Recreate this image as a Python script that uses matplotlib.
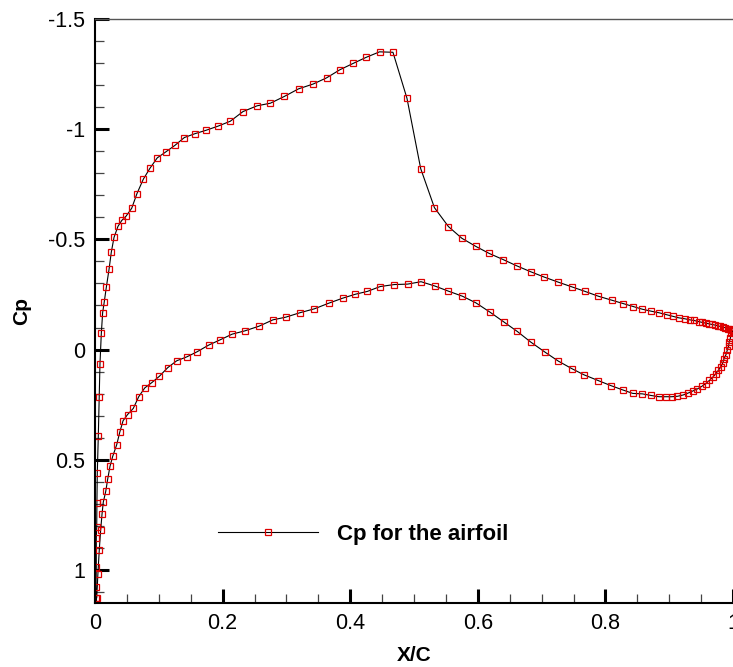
import matplotlib
matplotlib.use("Agg")
import matplotlib.pyplot as plt
from matplotlib.ticker import MultipleLocator, FormatStrFormatter

# upper surface, leading edge -> trailing edge
x_upper = [0.0016, 0.0016, 0.002, 0.002, 0.0027, 0.003, 0.0036, 0.0052, 0.0067, 0.0078,
           0.0099, 0.012, 0.0146, 0.0177, 0.022, 0.0255, 0.0298, 0.036, 0.042, 0.0486,
           0.0575, 0.0658, 0.0757, 0.0862, 0.0976, 0.111, 0.125, 0.140, 0.156, 0.174,
           0.193, 0.212, 0.232, 0.254, 0.275, 0.297, 0.319, 0.342, 0.363, 0.384,
           0.405, 0.425, 0.446, 0.467, 0.489, 0.5105, 0.532, 0.554, 0.575, 0.597,
           0.618, 0.640, 0.661, 0.683, 0.704, 0.726, 0.747, 0.768, 0.789, 0.810,
           0.828, 0.844, 0.858, 0.872, 0.884, 0.896, 0.906, 0.915, 0.924, 0.932,
           0.939, 0.946, 0.952, 0.957, 0.962, 0.967, 0.972, 0.976, 0.980, 0.984,
           0.988, 0.992, 0.995, 0.998, 1.0]
cp_upper = [1.127, 1.077, 0.986, 0.855, 0.805, 0.695, 0.559, 0.39, 0.213, 0.064,
            -0.073, -0.168, -0.218, -0.282, -0.364, -0.441, -0.509, -0.559, -0.586, -0.605,
            -0.641, -0.708, -0.773, -0.823, -0.870, -0.897, -0.926, -0.962, -0.979, -0.995,
            -1.014, -1.036, -1.080, -1.106, -1.118, -1.149, -1.183, -1.205, -1.233, -1.270,
            -1.299, -1.326, -1.351, -1.349, -1.140, -0.821, -0.644, -0.558, -0.505, -0.468,
            -0.436, -0.408, -0.380, -0.353, -0.329, -0.306, -0.285, -0.264, -0.242, -0.224,
            -0.209, -0.195, -0.183, -0.174, -0.167, -0.158, -0.151, -0.144, -0.140, -0.135,
            -0.132, -0.127, -0.123, -0.120, -0.117, -0.114, -0.111, -0.108, -0.105, -0.102,
            -0.099, -0.095, -0.092, -0.089, -0.086]

# lower surface, trailing edge -> leading edge
x_lower = [1.0, 0.997, 0.996, 0.994, 0.993, 0.991, 0.989, 0.986, 0.984, 0.981,
           0.977, 0.973, 0.968, 0.963, 0.957, 0.951, 0.944, 0.937, 0.930, 0.922,
           0.913, 0.904, 0.895, 0.884, 0.871, 0.858, 0.843, 0.827, 0.809, 0.789,
           0.766, 0.747, 0.726, 0.705, 0.683, 0.662, 0.641, 0.619, 0.597, 0.576,
           0.554, 0.533, 0.511, 0.490, 0.469, 0.447, 0.427, 0.408, 0.388, 0.366,
           0.344, 0.321, 0.299, 0.279, 0.257, 0.235, 0.215, 0.196, 0.178, 0.160,
           0.144, 0.128, 0.114, 0.101, 0.089, 0.078, 0.0685, 0.060, 0.051, 0.044,
           0.039, 0.034, 0.0277, 0.0235, 0.020, 0.0168, 0.013, 0.011, 0.0089, 0.0067,
           0.0045, 0.0027]
cp_lower = [-0.086, -0.073, -0.053, -0.033, -0.015, 0.003, 0.023, 0.042, 0.060, 0.079,
            0.094, 0.110, 0.126, 0.140, 0.155, 0.167, 0.179, 0.188, 0.197, 0.206,
            0.212, 0.214, 0.214, 0.214, 0.208, 0.201, 0.199, 0.183, 0.164, 0.141,
            0.114, 0.086, 0.052, 0.011, -0.034, -0.082, -0.125, -0.170, -0.212, -0.242,
            -0.265, -0.288, -0.308, -0.297, -0.295, -0.286, -0.264, -0.251, -0.233, -0.210,
            -0.185, -0.167, -0.147, -0.135, -0.106, -0.085, -0.070, -0.044, -0.020, 0.010,
            0.033, 0.051, 0.082, 0.121, 0.150, 0.174, 0.214, 0.267, 0.295, 0.323,
            0.373, 0.432, 0.485, 0.530, 0.586, 0.644, 0.692, 0.747, 0.818, 0.909,
            1.02, 1.127]

x_all = x_lower + x_upper
cp_all = cp_lower + cp_upper

plt.rcParams['font.family'] = ['Liberation Sans', 'DejaVu Sans']
plt.rcParams['axes.unicode_minus'] = False

fig = plt.figure(figsize=(7.33, 6.67), dpi=100)
ax = fig.add_axes([95 / 733, 1 - 603 / 667, 638 / 733, 584 / 667])

ax.plot(x_all, cp_all, color='black', linewidth=0.8, marker='s', markersize=4.5,
        markerfacecolor='none', markeredgecolor='#dd0000', markeredgewidth=0.9,
        label='Cp for the airfoil')

ax.set_xlim(0, 1.0)
ax.set_ylim(1.15, -1.5)

ax.xaxis.set_major_locator(MultipleLocator(0.2))
ax.xaxis.set_minor_locator(MultipleLocator(0.05))
ax.yaxis.set_major_locator(MultipleLocator(0.5))
ax.yaxis.set_minor_locator(MultipleLocator(0.1))
ax.xaxis.set_major_formatter(FormatStrFormatter('%g'))
ax.yaxis.set_major_formatter(FormatStrFormatter('%g'))

ax.tick_params(which='major', direction='in', length=10, width=2.2, color='black',
               labelsize=15.5, pad=7, top=False, right=False)
ax.tick_params(which='minor', direction='in', length=6.5, width=0.9, color='#444444',
               top=False, right=False)

ax.spines['right'].set_visible(False)
ax.spines['top'].set_color('#555555')
ax.spines['top'].set_linewidth(1.0)
ax.spines['left'].set_linewidth(1.5)
ax.spines['bottom'].set_linewidth(1.5)

ax.set_xlabel('X/C', fontsize=15, fontweight='bold', labelpad=9)
ax.set_ylabel('Cp', fontsize=15, fontweight='bold', labelpad=12)

ax.legend(loc='center left', bbox_to_anchor=(0.161, 0.118), frameon=False,
          handlelength=4.5, handletextpad=0.85, numpoints=1,
          prop={'weight': 'bold', 'size': 16})

fig.savefig('out.png', dpi=100)
